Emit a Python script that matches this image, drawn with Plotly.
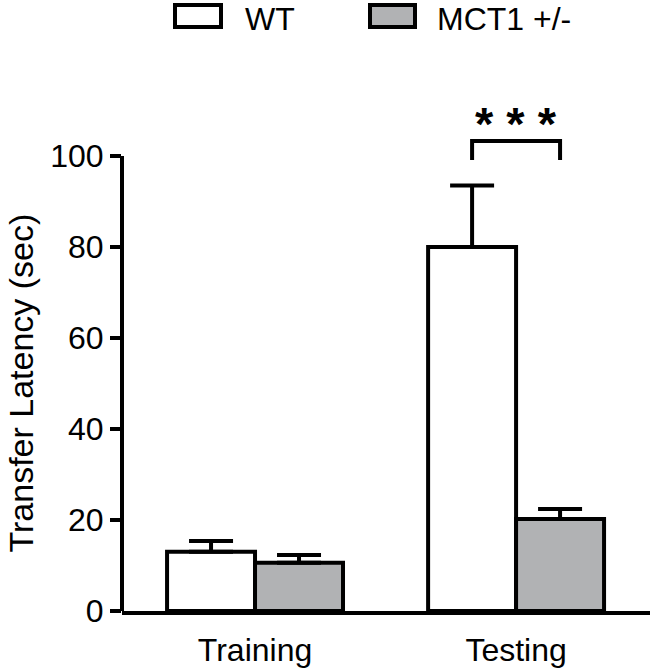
import plotly.graph_objects as go

# ---- data ----
categories = ["Training", "Testing"]
series_names = ["WT", "MCT1 +/-"]
wt_means = [13.0, 80.0]
wt_sem = [2.4, 13.5]
mct_means = [10.6, 20.2]
mct_sem = [1.7, 2.2]
y_ticks = [0, 20, 40, 60, 80, 100]
sig_label = "* * *"
bracket_y = 103.3
bracket_drop = 4.2

# ---- styling ----
FONT = "Liberation Sans, Arial, Helvetica, sans-serif"
FS = 32
LW = 4
GRAY = "#b1b2b4"
W, H = 653, 670
ML, MR, MT, MB = 122, 3, 100, 59
PW, PH = W - ML - MR, H - MT - MB
PX_PER_UNIT = 4.55
y_max = PH / PX_PER_UNIT
bargap = 0.326


def px_x(px):
    return (px - ML) / PW


def px_y(py):
    return (H - MB - py) / PH


fig = go.Figure()
fig.add_trace(go.Bar(
    x=categories, y=wt_means, name=series_names[0],
    marker=dict(color="white", line=dict(color="black", width=LW)),
    error_y=dict(type="data", symmetric=False, array=wt_sem, arrayminus=[0, 0],
                 color="black", thickness=LW, width=22),
    showlegend=False,
))
fig.add_trace(go.Bar(
    x=categories, y=mct_means, name=series_names[1],
    marker=dict(color=GRAY, line=dict(color="black", width=LW)),
    error_y=dict(type="data", symmetric=False, array=mct_sem, arrayminus=[0, 0],
                 color="black", thickness=LW, width=22),
    showlegend=False,
))

shapes = []
# y axis line only from 0 to 100
shapes.append(dict(type="line", xref="paper", yref="y", x0=0, x1=0,
                   y0=y_ticks[0], y1=y_ticks[-1],
                   line=dict(color="black", width=LW)))
# significance bracket between Testing bars
off = (1 - bargap) / 4
xa, xb = 1 - off, 1 + off
shapes.append(dict(type="path", xref="x", yref="y",
                   path=f"M {xa},{bracket_y - bracket_drop} L {xa},{bracket_y} L {xb},{bracket_y} L {xb},{bracket_y - bracket_drop}",
                   line=dict(color="black", width=LW)))

# manual legend boxes
legend_boxes = [(175, 221, "white"), (370, 415, GRAY)]
for x0, x1, col in legend_boxes:
    shapes.append(dict(type="rect", xref="paper", yref="paper",
                       x0=px_x(x0), x1=px_x(x1), y0=px_y(27), y1=px_y(5),
                       fillcolor=col, line=dict(color="black", width=LW)))

annotations = []
for name, tx in zip(series_names, [244, 436]):
    annotations.append(dict(text=name, xref="paper", yref="paper",
                            x=px_x(tx), y=px_y(0), xanchor="left", yanchor="top",
                            borderpad=0, showarrow=False,
                            font=dict(family=FONT, size=FS, color="black")))
annotations.append(dict(text=sig_label, xref="x", yref="y", x=1, y=100.8,
                        xanchor="center", yanchor="bottom", showarrow=False,
                        font=dict(family=FONT, size=47, color="black", weight="bold")))
annotations.append(dict(text="Transfer Latency (sec)", xref="paper", yref="y",
                        x=px_x(0), y=50, xanchor="left", yanchor="middle",
                        textangle=-90, showarrow=False, borderpad=0,
                        font=dict(family=FONT, size=34, color="black")))

fig.update_layout(
    width=W, height=H,
    margin=dict(l=ML, r=MR, t=MT, b=MB, autoexpand=False),
    paper_bgcolor="white", plot_bgcolor="white",
    barmode="group", bargap=bargap, bargroupgap=0,
    shapes=shapes, annotations=annotations,
    font=dict(family=FONT, size=FS, color="black"),
    showlegend=False,
)
fig.update_xaxes(type="category", range=[-0.5096, 1.513], showline=True,
                 linecolor="black", linewidth=LW, ticks="", showgrid=False,
                 zeroline=False, ticklabelstandoff=8,
                 tickfont=dict(family=FONT, size=FS, color="black"))
fig.update_yaxes(range=[0, y_max], tickvals=y_ticks, ticks="outside", ticklen=11,
                 tickwidth=LW, tickcolor="black", showline=False, showgrid=False,
                 zeroline=False, tickfont=dict(family=FONT, size=FS, color="black"))

fig.write_html("out.html", config={"displayModeBar": False},
               post_script="document.body.style.margin='0';document.body.style.overflow='hidden';")
